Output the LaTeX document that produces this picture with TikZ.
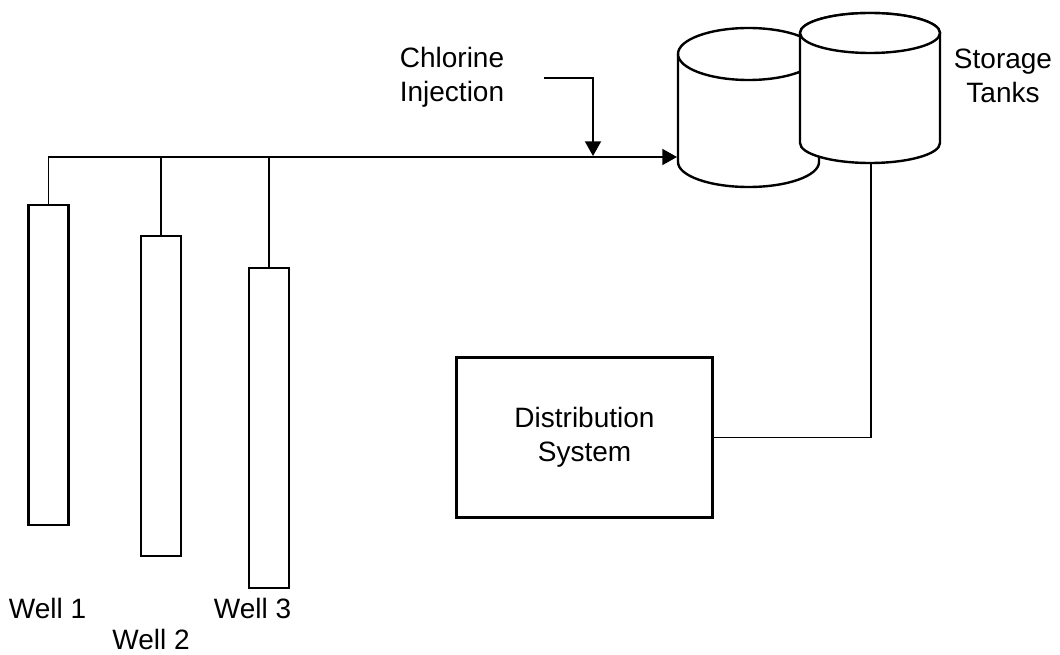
\documentclass[tikz,border=0pt]{standalone}
\usepackage{fontspec}
\setmainfont{Liberation Sans}
\usetikzlibrary{arrows.meta}

\tikzset{
	pipe/.style = {line width = 1.4pt},
	flow/.style = {pipe, -{Triangle[length = 11pt, width = 12pt]}},
	tank/.style = {line width = 1.8pt, fill = white},
	well/.style = {draw, line width = 1.8pt, anchor = north, inner sep = 0pt,
		minimum width = 30pt, minimum height = 240pt},
	txt/.style = {font = \fontsize{21}{25.5}\selectfont, align = center},
}

\begin{document}
\begin{tikzpicture} [x = 0.75pt, y = 0.75pt]
	\useasboundingbox (0, 0) rectangle (1060, 654) ;
	
	% wells
	\node [well] (well1) at (48.5, 450) {} ;
	\node [well] (well2) at (161, 419) {} ;
	\node [well] (well3) at (269, 387) {} ;
	\node [txt, anchor = base] (name1) at (47.5, 36) {Well 1} ;
	\node [txt, anchor = base] (name2) at (151, 5) {Well 2} ;
	\node [txt, anchor = base] (name3) at (252.5, 36) {Well 3} ;
	
	% storage tanks
	\filldraw [tank] (678, 600) -- (678, 492) arc [start angle = 180, end angle = 360, x radius = 70.5, y radius = 25] -- (819, 600) ;
	\draw [tank] (748.5, 600) ellipse [x radius = 70.5, y radius = 26] ;
	\filldraw [tank] (800, 621) -- (800, 511) arc [start angle = 180, end angle = 360, x radius = 70, y radius = 20] -- (940, 621) arc [start angle = 0, end angle = 180, x radius = 70, y radius = 20] -- cycle ;
	\draw [tank] (870, 621) ellipse [x radius = 70, y radius = 20] ;
	\coordinate (tankin) at (677, 497) ;
	\coordinate (tankout) at (871, 491) ;
	\node [txt] (storage) at (1003, 578) {Storage\\Tanks} ;
	
	% pipes
	\draw [flow] (well1.north) |- (tankin) ;
	\draw [pipe] (well2.north) -- (well2.north |- tankin) ;
	\draw [pipe] (well3.north) -- (well3.north |- tankin) ;
	
	% chlorine
	\node [txt] (chlorine) at (452, 577) {Chlorine\\Injection} ;
	\coordinate (inj) at (544, 576) ;
	\coordinate (mix) at (593, 498) ;
	\draw [flow] (inj) -| (mix) ;
	
	% distribution
	\node [draw, line width = 1.6pt, minimum width = 192pt, minimum height = 120pt, txt] (dist) at (584.5, 216.5) {Distribution\\System} ;
	\draw [pipe] (dist.east) -| (tankout) ;
	
\end{tikzpicture}
\end{document}
